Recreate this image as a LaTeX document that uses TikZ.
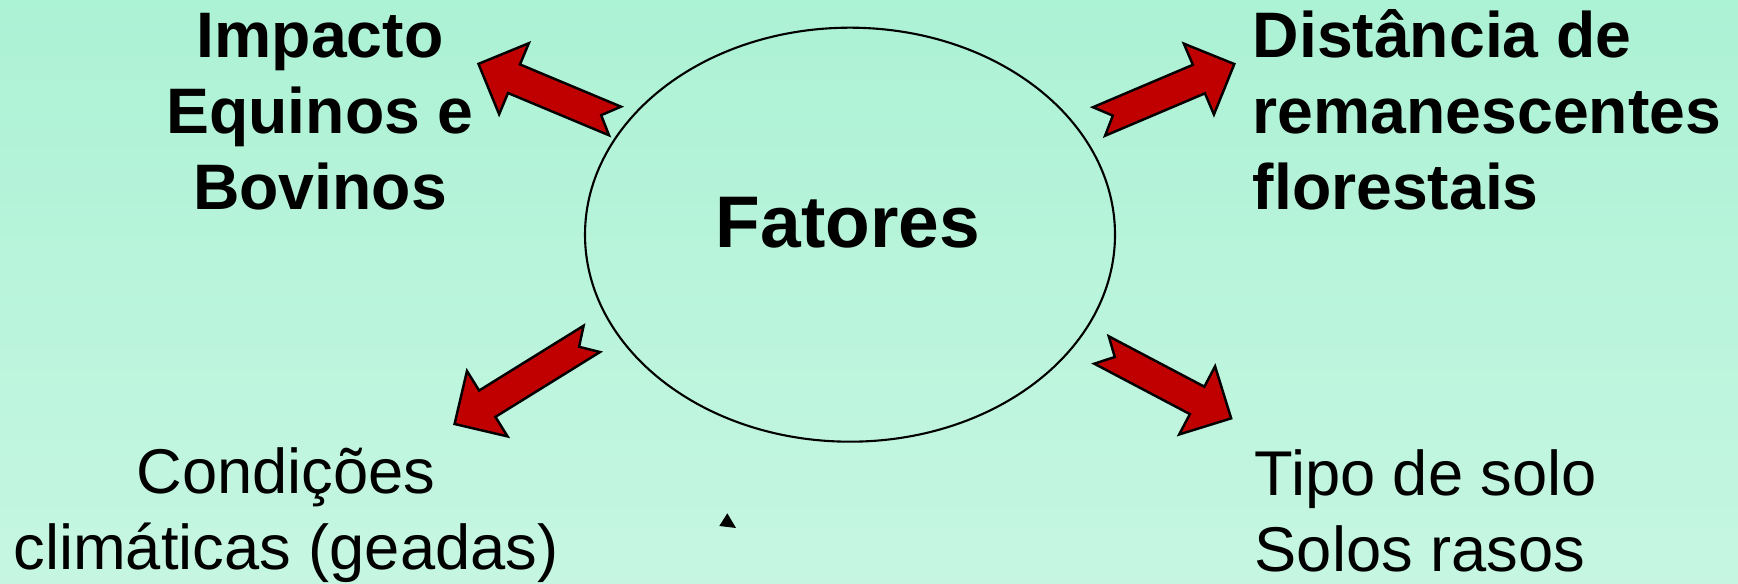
\documentclass[tikz,border=0pt]{standalone}
\usepackage{fontspec}
\setmainfont{Liberation Sans}
\usepackage{tikz}
\usetikzlibrary{shapes.geometric}

\definecolor{bgtop}{HTML}{ACF2D5}
\definecolor{bgbottom}{HTML}{C6F6E2}
\definecolor{arrowred}{HTML}{C00000}

\begin{document}
\begin{tikzpicture}[
  factor/.style={font=\bfseries\fontsize{18.3}{21.7}\selectfont, inner sep=0pt},
  plain/.style={font=\fontsize{18}{21.7}\selectfont, inner sep=0pt},
  hubtext/.style={font=\bfseries\fontsize{20.8}{25}\selectfont, inner sep=0pt},
  hub/.style={ellipse, draw, line width=0.6pt, minimum width=5.3cm, minimum height=4.14cm},
  arrowfill/.style={fill=arrowred, draw=black, line width=0.7pt, line join=miter},
  pics/notcharrow/.style={code={
    \filldraw[arrowfill] (0,0.155) -- ({#1-0.385},0.155) -- ({#1-0.385},0.385)
      -- (#1,0) -- ({#1-0.385},-0.385) -- ({#1-0.385},-0.155) -- (0,-0.155)
      -- (0.15,0) -- cycle;
  }}]

% background
\shade[top color=bgtop, bottom color=bgbottom] (0,0) rectangle (17.38,5.84);
\useasboundingbox (0,0) rectangle (17.38,5.84);

% centre
\node[hub] (fatores) at (8.50,3.493) {};
\node[hubtext, anchor=base] (fatorestxt) at (8.48,3.36) {Fatores};

% factors (base = last line)
\node[factor, align=center, anchor=base] (impacto) at (3.20,3.74) {Impacto\\Equinos e\\Bovinos};
\node[factor, align=left, anchor=base west] (distancia) at (12.52,3.74) {Dist\^ancia de\\remanescentes\\florestais};
\node[plain, align=center, anchor=base] (condicoes) at (2.86,0.14) {Condi\c{c}\~oes\\clim\'aticas (geadas)};
\node[plain, align=left, anchor=base west] (solo) at (12.54,0.12) {Tipo de solo\\Solos rasos};

% arrows
\pic[rotate=157.3] at (6.15,4.63) {notcharrow=1.48};
\pic[rotate=23.0] at (10.99,4.625) {notcharrow=1.47};
\pic[rotate=211.8] at (5.918,2.451) {notcharrow=1.615};
\pic[rotate=-27.8] at (11.015,2.34) {notcharrow=1.466};

% stray mark
\fill (7.273,0.707) -- (7.193,0.58) -- (7.36,0.56) -- cycle;
\end{tikzpicture}
\end{document}
